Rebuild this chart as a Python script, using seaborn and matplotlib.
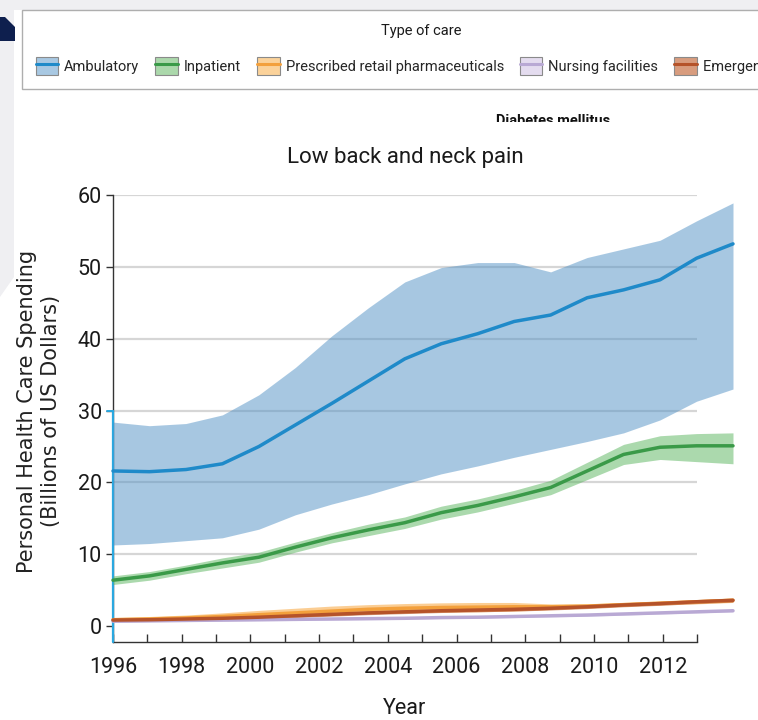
import matplotlib
matplotlib.use("Agg")
import matplotlib.pyplot as plt
from matplotlib.patches import Patch, Polygon
from matplotlib.lines import Line2D
from matplotlib.transforms import Bbox, TransformedBbox
import seaborn as sns
import pandas as pd

# data: 1996-2013, billions of US dollars (mean and uncertainty band)
years = list(range(1996, 2014))

amb_mean = [21.6, 21.5, 21.8, 22.6, 25.0, 28.0, 31.0, 34.1, 37.2, 39.3, 40.7, 42.4, 43.3, 45.7, 46.8, 48.2, 51.2, 53.2]
amb_hi = [28.4, 27.9, 28.2, 29.4, 32.2, 36.0, 40.4, 44.3, 47.9, 49.9, 50.6, 50.6, 49.3, 51.3, 52.5, 53.7, 56.4, 58.9]
amb_lo = [11.3, 11.5, 11.9, 12.3, 13.5, 15.5, 17.0, 18.3, 19.8, 21.2, 22.3, 23.5, 24.6, 25.7, 26.9, 28.7, 31.3, 33.0]

inp_mean = [6.4, 7.0, 7.9, 8.8, 9.6, 11.0, 12.3, 13.4, 14.4, 15.8, 16.8, 18.0, 19.3, 21.6, 23.9, 24.9, 25.1, 25.1]
inp_hi = [7.0, 7.6, 8.5, 9.5, 10.3, 11.7, 13.0, 14.2, 15.2, 16.7, 17.7, 18.9, 20.3, 22.8, 25.3, 26.5, 26.8, 26.9]
inp_lo = [5.8, 6.4, 7.3, 8.1, 8.9, 10.3, 11.6, 12.6, 13.6, 14.9, 15.9, 17.1, 18.3, 20.4, 22.5, 23.2, 22.9, 22.6]

pha_mean = [0.9, 1.0, 1.15, 1.35, 1.6, 1.85, 2.1, 2.35, 2.5, 2.6, 2.65, 2.7, 2.7, 2.8, 3.0, 3.2, 3.4, 3.6]
pha_hi = [1.2, 1.35, 1.55, 1.85, 2.2, 2.5, 2.8, 3.0, 3.15, 3.25, 3.3, 3.3, 3.1, 3.1, 3.3, 3.5, 3.7, 3.95]
pha_lo = [0.65, 0.7, 0.8, 0.95, 1.1, 1.3, 1.5, 1.7, 1.85, 1.95, 2.0, 2.1, 2.3, 2.5, 2.75, 2.95, 3.1, 3.3]

nur_mean = [0.7, 0.75, 0.8, 0.85, 0.9, 0.95, 1.0, 1.05, 1.1, 1.2, 1.25, 1.35, 1.45, 1.55, 1.7, 1.85, 2.0, 2.15]
nur_hi = [0.85, 0.9, 0.95, 1.0, 1.05, 1.1, 1.15, 1.2, 1.25, 1.35, 1.4, 1.5, 1.6, 1.7, 1.85, 2.0, 2.15, 2.3]
nur_lo = [0.55, 0.6, 0.65, 0.7, 0.75, 0.8, 0.85, 0.9, 0.95, 1.05, 1.1, 1.2, 1.3, 1.4, 1.55, 1.7, 1.85, 2.0]

eme_mean = [0.85, 0.9, 1.0, 1.1, 1.25, 1.45, 1.65, 1.85, 2.0, 2.15, 2.25, 2.35, 2.5, 2.7, 2.95, 3.15, 3.4, 3.6]
eme_hi = [1.1, 1.15, 1.25, 1.35, 1.5, 1.7, 1.9, 2.1, 2.25, 2.4, 2.5, 2.6, 2.75, 2.95, 3.2, 3.4, 3.65, 3.85]
eme_lo = [0.6, 0.65, 0.75, 0.85, 1.0, 1.2, 1.4, 1.6, 1.75, 1.9, 2.0, 2.1, 2.25, 2.45, 2.7, 2.9, 3.15, 3.35]

care_types = ["Ambulatory", "Inpatient", "Prescribed retail pharmaceuticals",
              "Nursing facilities", "Emergency care"]
means = [amb_mean, inp_mean, pha_mean, nur_mean, eme_mean]
highs = [amb_hi, inp_hi, pha_hi, nur_hi, eme_hi]
lows = [amb_lo, inp_lo, pha_lo, nur_lo, eme_lo]

line_colors = ["#1f8ac9", "#3a9a48", "#f3a03c", "#b9a9d4", "#b5532a"]
band_colors = ["#5191c5", "#58b45c", "#f8a53a", "#c9b9e0", "#c0643a"]
band_alpha = [0.5, 0.5, 0.55, 0.5, 0.6]
legend_face = ["#a8c8e2", "#abd8ab", "#fbd29a", "#e4dcef", "#d89c7e"]

yticks = [0, 10, 20, 30, 40, 50, 60]
xtick_labels = [str(y) if y % 2 == 0 else "" for y in years]

rows = []
for name, m in zip(care_types, means):
    for yr, v in zip(years, m):
        rows.append({"Year": yr, "Spending": v, "Type": name})
df = pd.DataFrame(rows)

sns.set_theme(style="white")
plt.rcParams["font.family"] = ["Roboto", "DejaVu Sans"]

W, H = 758, 720
fig = plt.figure(figsize=(W / 100, H / 100), dpi=100)
fig.patch.set_facecolor("white")

def fx(px):
    return px / W

def fy(py):
    return 1 - py / H

# page background pieces
fig.patches.append(Polygon([(fx(0), fy(0)), (fx(W), fy(0)), (fx(W), fy(10)), (fx(14), fy(10)),
                            (fx(14), fy(277)), (fx(0), fy(297))],
                           closed=True, transform=fig.transFigure, facecolor="#efeff2",
                           edgecolor="none", zorder=0))
fig.patches.append(Polygon([(fx(0), fy(17)), (fx(5), fy(17)), (fx(15), fy(27)), (fx(15), fy(41)),
                            (fx(0), fy(41))],
                           closed=True, transform=fig.transFigure, facecolor="#0e1f4e",
                           edgecolor="none", zorder=1))

bottom_px, top_px = 642, 195
ymin, ymax = -2.2, 60
ax = fig.add_axes([fx(113), fy(bottom_px), fx(697) - fx(113), fy(top_px) - fy(bottom_px)])
ax_d = fig.add_axes([fx(113), fy(bottom_px), fx(733) - fx(113), fy(top_px) - fy(bottom_px)])

ax.set_xlim(1996, 2013)
ax.set_ylim(ymin, ymax)
ax.set_facecolor("none")
ax.set_yticks(yticks)
ax.set_xticks(years)
ax.set_xticklabels(xtick_labels)
for v in yticks[1:]:
    ax.axhline(v, color="#d6d6d6", lw=1.6, zorder=0)
sns.despine(ax=ax)
for side in ["left", "bottom"]:
    ax.spines[side].set_color("#333333")
    ax.spines[side].set_linewidth(1.0)
ax.tick_params(axis="y", direction="out", length=5, width=1, color="#333333",
               labelsize=15.5, pad=3, left=True)
ax.tick_params(axis="x", direction="in", length=6, width=1, color="#333333",
               labelsize=15.5, pad=11, bottom=True)
for lab in ax.get_xticklabels() + ax.get_yticklabels():
    lab.set_color("#1a1a1a")
# highlighted piece of the y axis
ax.plot([1996, 1996], [ymin, 30], color="#2aa8e0", lw=1.6, clip_on=False, zorder=5)
ax.plot([1996 - 0.17, 1996], [30, 30], color="#2aa8e0", lw=1.4, clip_on=False, zorder=5)

ax_d.set_xlim(1996, 2013)
ax_d.set_ylim(ymin, ymax)
ax_d.axis("off")
ax_d.patch.set_visible(False)

for name, hi, lo, bc, a in zip(care_types, highs, lows, band_colors, band_alpha):
    ax_d.fill_between(years, lo, hi, color=bc, alpha=a, linewidth=0, clip_on=False)

sns.lineplot(data=df, x="Year", y="Spending", hue="Type", hue_order=care_types,
             palette=line_colors, linewidth=2.5, legend=False, ax=ax_d, clip_on=False)

fig.text(fx(405), fy(157), "Low back and neck pain", ha="center", va="center",
         fontsize=16, color="#1a1a1a")
fig.text(fx(405), fy(708), "Year", ha="center", va="center", fontsize=15.5, color="#1a1a1a")
fig.text(fx(39), fy(411), "Personal Health Care Spending\n(Billions of US Dollars)",
         ha="center", va="center", rotation=90, fontsize=15, family="DejaVu Sans",
         color="#222222", linespacing=1.2)

# clipped text peeking from beneath the legend
t = fig.text(fx(553), fy(114), "Diabetes mellitus", ha="center", va="top",
             fontsize=10.5, color="#111111", fontweight="bold")
t.set_clip_on(True)
t.set_clip_box(TransformedBbox(Bbox([[0, fy(122)], [1, fy(100)]]), fig.transFigure))

handles = []
for lc, lf in zip(line_colors, legend_face):
    handles.append((Patch(facecolor=lf, edgecolor="#8a8a8a", linewidth=0.8),
                    Line2D([0], [0], color=lc, lw=2.2)))
leg = fig.legend(handles, care_types, loc="upper left", bbox_to_anchor=(fx(22), fy(10)),
                 borderaxespad=0, ncol=5, title="Type of care", fontsize=10.5,
                 title_fontsize=10.5, frameon=True, fancybox=False, edgecolor="#9a9a9a",
                 handlelength=1.55, handleheight=1.5, handletextpad=0.4,
                 columnspacing=1.1, borderpad=0.95, labelspacing=0.4)
leg.get_frame().set_linewidth(1.0)
leg.get_title().set_color("#1a1a1a")
leg._legend_box.sep = 14

fig.savefig("out.png", dpi=100, facecolor=fig.get_facecolor())
